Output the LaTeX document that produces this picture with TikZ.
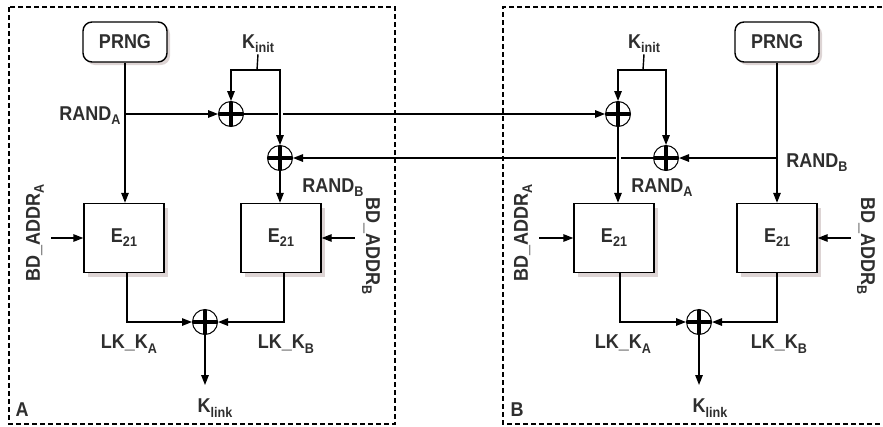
\documentclass[tikz,border=0pt]{standalone}
\usepackage{fontspec}
\setmainfont{Liberation Sans}[FakeStretch=0.9]
\usetikzlibrary{arrows.meta,shadows}
\definecolor{txtgray}{HTML}{2E2E2E}
\definecolor{shadowgray}{HTML}{DDD4D4}
\newcommand\lowtxt[1]{\raisebox{-0.4ex}{\fontsize{14}{15}\selectfont #1}}
\tikzset{
  lbl/.style={font=\fontsize{20}{22}\selectfont\bfseries, text=txtgray, inner sep=1pt},
  cipher/.style={draw, line width=1.4pt, minimum width=80pt, minimum height=69pt, fill=white,
    font=\fontsize{20}{22}\selectfont\bfseries, text=txtgray,
    drop shadow={shadow xshift=4pt, shadow yshift=-4pt, fill=shadowgray, opacity=1}},
  prng/.style={draw, line width=1.4pt, rounded corners=9pt, minimum width=84pt, minimum height=40pt, fill=white,
    font=\fontsize{20}{22}\selectfont\bfseries, text=txtgray,
    drop shadow={shadow xshift=3pt, shadow yshift=-3pt, fill=shadowgray, opacity=1}},
  xorgate/.style={circle, draw, line width=1pt, minimum size=25pt, inner sep=0pt, fill=white,
    path picture={\draw[line width=3.2pt] (path picture bounding box.north) -- (path picture bounding box.south)
      (path picture bounding box.west) -- (path picture bounding box.east);}},
  plain/.style={line width=1.4pt},
  wire/.style={plain, -{Triangle[length=10pt,width=7.5pt]}},
  hop/.style={white, line width=5pt},
  party/.style={line width=1.3pt, dash pattern=on 5pt off 3pt}
}
\begin{document}
\begin{tikzpicture}[x=1pt,y=-1pt]
  \useasboundingbox (0,0) rectangle (883,426);
  % Device A
  \draw[party] (9,7) rectangle (395,424);
  \node[lbl] (labA) at (22,410) {A};
  \node[prng] (prngA) at (125,42) {PRNG};
  \node[cipher] (encA1) at (124,238) {E\lowtxt{21}};
  \node[cipher] (encA2) at (281,238) {E\lowtxt{21}};
  \node[xorgate] (xA1) at (231,114) {};
  \node[xorgate] (xA2) at (280,158) {};
  \node[xorgate] (xA3) at (205,322) {};
  \node[lbl] (kinitA) at (258,44) {K\lowtxt{init}};
  \coordinate (forkA) at (257,70);
  \coordinate (randA) at (prngA.south |- xA1);
  \node[lbl] (randAlblA) at (90,116) {RAND\lowtxt{A}};
  \node[lbl] (randBlblA) at (333,188) {RAND\lowtxt{B}};
  \node[lbl, rotate=90] (addrA1) at (35,233) {BD\_ADDR\lowtxt{A}};
  \node[lbl, rotate=-90] (addrA2) at (371,246) {BD\_ADDR\lowtxt{B}};
  \node[lbl] (lkA1) at (129,344) {LK\_K\lowtxt{A}};
  \node[lbl] (lkA2) at (286,344) {LK\_K\lowtxt{B}};
  \node[lbl] (klinkA) at (215,408) {K\lowtxt{link}};
  \coordinate (outA) at (205,385);
  % Device B
  \draw[party] (890,7) -- (503,7) -- (503,424) -- (890,424);
  \node[lbl] (labB) at (517,410) {B};
  \node[prng] (prngB) at (777,42) {PRNG};
  \node[cipher] (encB1) at (614,238) {E\lowtxt{21}};
  \node[cipher] (encB2) at (777,238) {E\lowtxt{21}};
  \node[xorgate] (xB1) at (618,114) {};
  \node[xorgate] (xB2) at (666,158) {};
  \node[xorgate] (xB3) at (699,322) {};
  \node[lbl] (kinitB) at (644,44) {K\lowtxt{init}};
  \coordinate (forkB) at (643,70);
  \coordinate (randB) at (prngB.south |- xB2);
  \node[lbl] (randAlblB) at (662,188) {RAND\lowtxt{A}};
  \node[lbl] (randBlblB) at (817,163) {RAND\lowtxt{B}};
  \node[lbl, rotate=90] (addrB1) at (523,233) {BD\_ADDR\lowtxt{A}};
  \node[lbl, rotate=-90] (addrB2) at (866,246) {BD\_ADDR\lowtxt{B}};
  \node[lbl] (lkB1) at (623,344) {LK\_K\lowtxt{A}};
  \node[lbl] (lkB2) at (779,344) {LK\_K\lowtxt{B}};
  \node[lbl] (klinkB) at (710,408) {K\lowtxt{link}};
  \coordinate (outB) at (699,385);
  % Random numbers to the XORs
  \draw[wire] (prngA.south) -- (prngA.south |- encA1.north);
  \draw[wire] (randA) -- (xA1);
  \draw[wire] (xA1.east) -- (xB1.west);
  \draw[wire] (prngB.south) -- (prngB.south |- encB2.north);
  \draw[wire] (randB) -- (xB2);
  \draw[wire] (xB2.west) -- (xA2.east);
  % Line hops
  \draw[hop] ([yshift=6pt]xA2.north |- xA1.east) -- ([yshift=-6pt]xA2.north |- xA1.east);
  \draw[hop] ([yshift=6pt]xB1.south |- xB2.west) -- ([yshift=-6pt]xB1.south |- xB2.west);
  % K_init forks
  \draw[plain] (kinitA.south) -- (forkA);
  \draw[wire] (forkA) -| (xA1.north);
  \draw[wire] (forkA) -| (xA2.north);
  \draw[plain] (kinitB.south) -- (forkB);
  \draw[wire] (forkB) -| (xB1.north);
  \draw[wire] (forkB) -| (xB2.north);
  % Into the E21 blocks
  \draw[wire] (xA2.south) -- (xA2.south |- encA2.north);
  \draw[wire] (xB1.south) -- (xB1.south |- encB1.north);
  \draw[wire] ([xshift=-32pt]encA1.west) -- (encA1.west);
  \draw[wire] ([xshift=33pt]encA2.east) -- (encA2.east);
  \draw[wire] ([xshift=-34pt]encB1.west) -- (encB1.west);
  \draw[wire] ([xshift=33pt]encB2.east) -- (encB2.east);
  % Link keys
  \draw[wire] ([xshift=3pt]encA1.south) |- (xA3.west);
  \draw[wire] ([xshift=3pt]encA2.south) |- (xA3.east);
  \draw[wire] (xA3.south) -- (outA);
  \draw[wire] ([xshift=6pt]encB1.south) |- (xB3.west);
  \draw[wire] (encB2.south) |- (xB3.east);
  \draw[wire] (xB3.south) -- (outB);
\end{tikzpicture}
\end{document}
